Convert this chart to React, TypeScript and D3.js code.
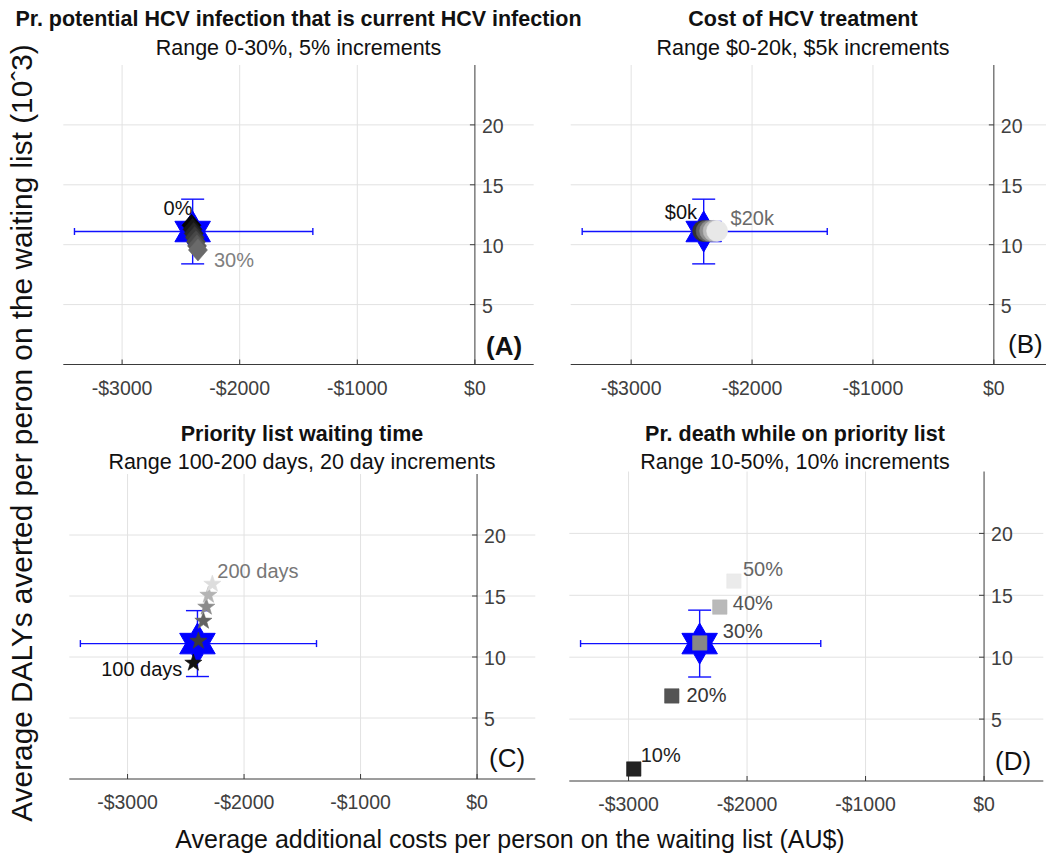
import React from "react";
import * as d3 from "d3";

// base case (blue hexagram) and its uncertainty ranges
const baseCost = -2400;
const baseDaly = 11.1;
const baseCostRange = [-3405, -1378];
const baseDalyRange = [8.4, 13.8];

const xTicks = [-3000, -2000, -1000, 0];
const yTicks = [5, 10, 15, 20];

// (A) Pr. potential HCV infection that is current
const hcvLabels = ["0%", "5%", "10%", "15%", "20%", "25%", "30%"];
const hcvCost = [-2410, -2401, -2391, -2382, -2372, -2363, -2355];
const hcvDaly = [11.62, 11.28, 10.94, 10.6, 10.25, 9.9, 9.56];

// (B) cost of HCV treatment
const treatLabels = ["$0k", "$5k", "$10k", "$15k", "$20k"];
const treatCost = [-2405, -2376, -2347, -2318, -2289];
const treatDaly = [11.15, 11.15, 11.15, 11.15, 11.15];

// (C) priority list waiting time
const waitLabels = ["100 days", "120 days", "140 days", "160 days", "180 days", "200 days"];
const waitCost = [-2435, -2392, -2349, -2324, -2306, -2272];
const waitDaly = [9.51, 11.31, 12.95, 14.1, 15.08, 15.98];

// (D) Pr. death while on priority list
const deathLabels = ["10%", "20%", "30%", "40%", "50%"];
const deathCost = [-2956, -2635, -2399, -2230, -2111];
const deathDaly = [0.97, 6.87, 11.15, 14.05, 16.15];

const FONT = "'Liberation Sans', Arial, Helvetica, sans-serif";

const polygon = (pts) => d3.line().curve(d3.curveLinearClosed)(pts);

const starPath = (n, R, r) =>
  polygon(
    d3.range(n * 2).map((i) => {
      const a = -Math.PI / 2 + (i * Math.PI) / n;
      const rad = i % 2 === 0 ? R : r;
      return [rad * Math.cos(a), rad * Math.sin(a)];
    })
  );

const markers = {
  diamond: () => polygon([[0, -11], [9.5, 0], [0, 11], [-9.5, 0]]),
  circle: () => {
    const p = d3.path();
    p.arc(0, 0, 10.5, 0, Math.PI * 2);
    return p.toString();
  },
  star: () => starPath(5, 9, 3.6),
  square: () => polygon([[-7.2, -7.2], [7.2, -7.2], [7.2, 7.2], [-7.2, 7.2]]),
};

const hexagram = starPath(6, 20.5, 20.5 / Math.sqrt(3));

const money = (v) => (v < 0 ? `-$${-v}` : `$${v}`);

function Panel({ box, title, subtitle, titleX, titleY, tag, tagBold, tagPos, cost, daly, marker, shades, notes }) {
  const x = d3.scaleLinear().domain([-3500, 500]).range([box.x0, box.x1]);
  const y = d3.scaleLinear().domain([0, 25]).range([box.y0, box.y1]);
  const shade = d3
    .scaleLinear<string>()
    .domain([0, cost.length - 1])
    .range(shades)
    .interpolate(d3.interpolateRgb);
  const bx = x(baseCost);
  const by = y(baseDaly);
  const shape = markers[marker]();

  return (
    <g>
      {/* grid */}
      {xTicks.filter((t) => t !== 0).map((t) => (
        <line key={"gx" + t} x1={x(t)} x2={x(t)} y1={y(0)} y2={y(25)} stroke="#e2e2e2" />
      ))}
      {yTicks.map((t) => (
        <line key={"gy" + t} x1={x(-3500)} x2={x(500)} y1={y(t)} y2={y(t)} stroke="#e2e2e2" />
      ))}
      {/* axes through origin */}
      <line x1={x(-3500)} x2={x(500)} y1={y(0)} y2={y(0)} stroke="#3a3a3a" />
      <line x1={x(0)} x2={x(0)} y1={y(0)} y2={y(25)} stroke="#3a3a3a" />
      {xTicks.map((t) => (
        <g key={"tx" + t}>
          <line x1={x(t)} x2={x(t)} y1={y(0)} y2={y(0) - 5} stroke="#3a3a3a" />
          <text x={x(t)} y={y(0) + 30} textAnchor="middle" fontSize={19.5} fill="#404040">
            {money(t)}
          </text>
        </g>
      ))}
      {yTicks.map((t) => (
        <g key={"ty" + t}>
          <line x1={x(0) - 5} x2={x(0)} y1={y(t)} y2={y(t)} stroke="#3a3a3a" />
          <text x={x(0) + 7} y={y(t) + 8} fontSize={19.5} fill="#404040">
            {t}
          </text>
        </g>
      ))}
      {/* titles */}
      <text x={titleX} y={titleY[0]} textAnchor="middle" fontSize={21.5} fontWeight="bold" fill="#111">
        {title}
      </text>
      <text x={titleX} y={titleY[1]} textAnchor="middle" fontSize={21.5} fill="#111">
        {subtitle}
      </text>
      <text x={tagPos[0]} y={tagPos[1]} fontSize={26} fontWeight={tagBold ? "bold" : "normal"} fill="#111">
        {tag}
      </text>
      {/* base case error bars */}
      <g stroke="#1010ff" strokeWidth={1.4} fill="none">
        <line x1={x(baseCostRange[0])} x2={x(baseCostRange[1])} y1={by} y2={by} />
        <line x1={x(baseCostRange[0])} x2={x(baseCostRange[0])} y1={by - 3.5} y2={by + 3.5} />
        <line x1={x(baseCostRange[1])} x2={x(baseCostRange[1])} y1={by - 3.5} y2={by + 3.5} />
        <line x1={bx} x2={bx} y1={y(baseDalyRange[0])} y2={y(baseDalyRange[1])} />
        <line x1={bx - 11.5} x2={bx + 11.5} y1={y(baseDalyRange[0])} y2={y(baseDalyRange[0])} />
        <line x1={bx - 11.5} x2={bx + 11.5} y1={y(baseDalyRange[1])} y2={y(baseDalyRange[1])} />
      </g>
      <path d={hexagram} transform={`translate(${bx},${by})`} fill="#0000ff" stroke="#0000ff" />
      {/* sensitivity points */}
      {cost.map((c, i) => (
        <path
          key={"m" + i}
          d={shape}
          transform={`translate(${x(c)},${y(daly[i])})`}
          fill={shade(i)}
          stroke={shade(i)}
          strokeWidth={0.6}
        />
      ))}
      {notes.map((n) => (
        <text
          key={"n" + n.i}
          x={x(cost[n.i]) + n.dx}
          y={y(daly[n.i]) + n.dy}
          textAnchor={n.anchor || "start"}
          fontSize={20}
          fill={n.color}
        >
          {n.text}
        </text>
      ))}
    </g>
  );
}

export default function App() {
  return (
    <svg
      width={1046}
      height={857}
      style={{ position: "absolute", left: 0, top: 0, background: "#fff" }}
      fontFamily={FONT}
    >
      <Panel
        box={{ x0: 63.3, x1: 533.7, y0: 364.5, y1: 65 }}
        title="Pr. potential HCV infection that is current HCV infection"
        subtitle="Range 0-30%, 5% increments"
        titleX={298.5}
        titleY={[26, 55]}
        tag="(A)"
        tagBold
        tagPos={[486, 355]}
        cost={hcvCost}
        daly={hcvDaly}
        marker="diamond"
        shades={["#050505", "#6a6a6a"]}
        notes={[
          { i: 0, text: hcvLabels[0], dx: 1, dy: -10, anchor: "end", color: "#111" },
          { i: 6, text: hcvLabels[6], dx: 16, dy: 17, color: "#808080" },
        ]}
      />
      <Panel
        box={{ x0: 570.7, x1: 1054.3, y0: 364.5, y1: 65 }}
        title="Cost of HCV treatment"
        subtitle="Range $0-20k, $5k increments"
        titleX={803}
        titleY={[26, 55]}
        tag="(B)"
        tagPos={[1008, 353]}
        cost={treatCost}
        daly={treatDaly}
        marker="circle"
        shades={["#333333", "#e8e8e8"]}
        notes={[
          { i: 0, text: treatLabels[0], dx: -6, dy: -12, anchor: "end", color: "#111" },
          { i: 4, text: treatLabels[4], dx: 13.5, dy: -6, color: "#6a6a6a" },
        ]}
      />
      <Panel
        box={{ x0: 69.3, x1: 535.3, y0: 779, y1: 474 }}
        title="Priority list waiting time"
        subtitle="Range 100-200 days, 20 day increments"
        titleX={302}
        titleY={[441, 469]}
        tag="(C)"
        tagPos={[489, 767]}
        cost={waitCost}
        daly={waitDaly}
        marker="star"
        shades={["#111111", "#dddddd"]}
        notes={[
          { i: 0, text: waitLabels[0], dx: -11, dy: 13, anchor: "end", color: "#111" },
          { i: 5, text: waitLabels[5], dx: 5, dy: -6, color: "#777" },
        ]}
      />
      <Panel
        box={{ x0: 569.3, x1: 1043.3, y0: 781, y1: 471.5 }}
        title="Pr. death while on priority list"
        subtitle="Range 10-50%, 10% increments"
        titleX={795}
        titleY={[441, 469]}
        tag="(D)"
        tagPos={[995, 770]}
        cost={deathCost}
        daly={deathDaly}
        marker="square"
        shades={["#222222", "#ebebeb"]}
        notes={[
          { i: 0, text: deathLabels[0], dx: 7, dy: -6.5, color: "#222" },
          { i: 1, text: deathLabels[1], dx: 14.7, dy: 5.7, color: "#333" },
          { i: 2, text: deathLabels[2], dx: 23, dy: -5, color: "#444" },
          { i: 3, text: deathLabels[3], dx: 13, dy: 3, color: "#555" },
          { i: 4, text: deathLabels[4], dx: 9, dy: -5, color: "#666" },
        ]}
      />
      <text x={510} y={848} textAnchor="middle" fontSize={25} fill="#111">
        Average additional costs per person on the waiting list (AU$)
      </text>
      <text transform="translate(32,433) rotate(-90)" textAnchor="middle" fontSize={29.8} fill="#111">
        Average DALYs averted per peron on the waiting list (10ˆ3)
      </text>
    </svg>
  );
}
